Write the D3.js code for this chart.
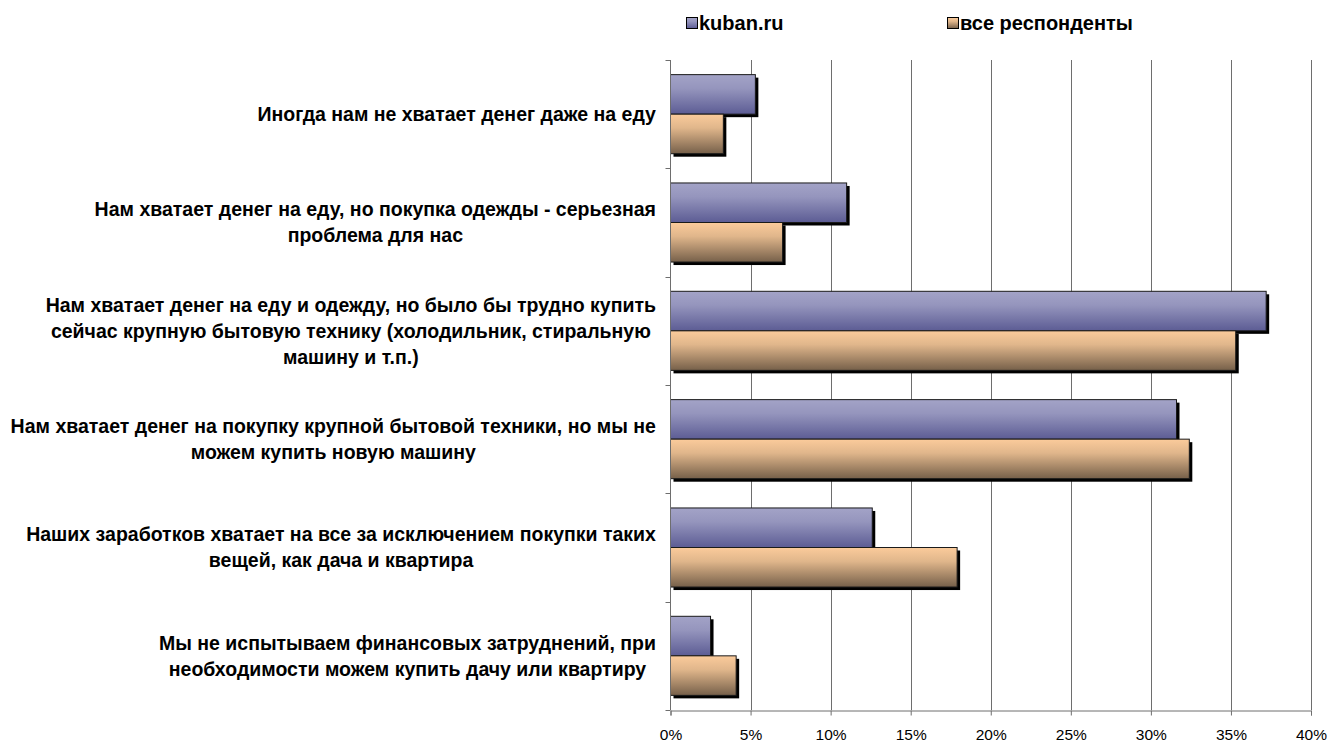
<!DOCTYPE html>
<html><head><meta charset="utf-8">
<script src="https://cdn.jsdelivr.net/npm/d3@7"></script>
<style>body{margin:0;background:#fff}svg{display:block}text{font-family:"Liberation Sans",Arial,sans-serif}</style>
</head><body><svg id="c" width="1327" height="745"></svg>
<script>
const categories = [
  ["Иногда нам не хватает денег даже на еду"],
  ["Нам хватает денег на еду, но покупка одежды - серьезная", "проблема для нас"],
  ["Нам хватает денег на еду и одежду, но было бы трудно купить", "сейчас крупную бытовую технику (холодильник, стиральную", "машину и т.п.)"],
  ["Нам хватает денег на покупку крупной бытовой техники, но мы не", "можем купить новую машину"],
  ["Наших заработков хватает на все за исключением покупки таких", "вещей, как дача и квартира"],
  ["Мы не испытываем финансовых затруднений, при", "необходимости можем купить дачу или квартиру"]
];
const seriesNames = ["kuban.ru", "все респонденты"];
const kubanValues = [5.3, 11.0, 37.2, 31.6, 12.6, 2.5];
const allValues = [3.3, 7.0, 35.3, 32.4, 17.9, 4.1];
const xTicks = [0, 5, 10, 15, 20, 25, 30, 35, 40];

(function () {
const svg = d3.select("#c");
const pL = 670.5, pR = 1311, pT = 60, pB = 710;
const x = d3.scaleLinear().domain([0, 40]).range([pL, pR]);
const y = d3.scaleBand().domain(d3.range(categories.length)).range([pT, pB]);
const inner = d3.scaleBand().domain([0, 1]).range([0, y.bandwidth()]).paddingOuter(0.37).paddingInner(0);

const defs = svg.append("defs");
const grads = [["#a3a3c7", "#5c5c94"], ["#fbcb9b", "#76604a"]];
grads.forEach((g, i) => {
  const lg = defs.append("linearGradient").attr("id", "g" + i).attr("x1", 0).attr("y1", 0).attr("x2", 0).attr("y2", 1);
  lg.append("stop").attr("offset", 0).attr("stop-color", g[0]);
  lg.append("stop").attr("offset", 0.35).attr("stop-color", d3.interpolateRgb(g[0], g[1])(0.2));
  lg.append("stop").attr("offset", 1).attr("stop-color", g[1]);
});

svg.append("g").selectAll("line").data(xTicks.slice(1)).join("line")
  .attr("x1", d => Math.round(x(d)) + 0.5).attr("x2", d => Math.round(x(d)) + 0.5)
  .attr("y1", pT).attr("y2", pB).attr("stroke", "#6e6e6e").attr("stroke-width", 1);

const xAxis = d3.axisBottom(x).tickValues(xTicks).tickFormat(d => d + "%").tickSize(5).tickPadding(13);
const gx = svg.append("g").attr("transform", `translate(0,${pB + 0.5})`).call(xAxis);
gx.select(".domain").attr("stroke", "#6e6e6e");
gx.selectAll(".tick line").attr("stroke", "#6e6e6e");
gx.selectAll("text").attr("font-size", 15.5).attr("fill", "#000").attr("font-family", "Liberation Sans, Arial, sans-serif");

const series = [kubanValues, allValues];
series.forEach((vals, si) => {
  const g = svg.append("g");
  const yy = i => y(i) + inner(si);
  g.selectAll("rect.sh").data(vals).join("rect").attr("class", "sh")
    .attr("x", x(0) + 3).attr("y", (d, i) => yy(i) + 3)
    .attr("width", d => x(d) - x(0)).attr("height", inner.bandwidth()).attr("fill", "#000");
  g.selectAll("rect.b").data(vals).join("rect").attr("class", "b")
    .attr("x", x(0)).attr("y", (d, i) => yy(i))
    .attr("width", d => x(d) - x(0)).attr("height", inner.bandwidth())
    .attr("fill", `url(#g${si})`).attr("stroke", "#1a1a1a").attr("stroke-width", 1);
});

const ya = svg.append("g");
ya.append("line").attr("x1", pL).attr("x2", pL).attr("y1", pT).attr("y2", pB).attr("stroke", "#6e6e6e");
ya.selectAll("line.t").data(d3.range(categories.length + 1)).join("line").attr("class", "t")
  .attr("x1", pL - 5).attr("x2", pL)
  .attr("y1", i => Math.round(pT + i * y.step()) + 0.5).attr("y2", i => Math.round(pT + i * y.step()) + 0.5)
  .attr("stroke", "#6e6e6e");

const labelRight = 656;
const lh = 26;
categories.forEach((lines, i) => {
  const cy = y(i) + y.bandwidth() / 2;
  const t = svg.append("text").attr("font-weight", "bold").attr("font-size", 19.5).attr("fill", "#000")
    .attr("text-anchor", "middle");
  lines.forEach((ln, j) => {
    t.append("tspan").attr("x", 0).attr("y", cy + (j - (lines.length - 1) / 2) * lh).attr("dy", "0.35em").text(ln);
  });
  const w = t.node().getBBox().width;
  t.attr("transform", `translate(${labelRight - w / 2},0)`);
});

const legX = [686, 947];
seriesNames.forEach((n, i) => {
  svg.append("rect").attr("x", legX[i] + 0.5).attr("y", 17.5).attr("width", 11).attr("height", 11)
    .attr("fill", `url(#g${i})`).attr("stroke", "#000");
  svg.append("text").attr("x", legX[i] + 13).attr("y", 23).attr("dy", "0.35em")
    .attr("font-weight", "bold").attr("font-size", 20).text(n);
});
})();
</script></body></html>
